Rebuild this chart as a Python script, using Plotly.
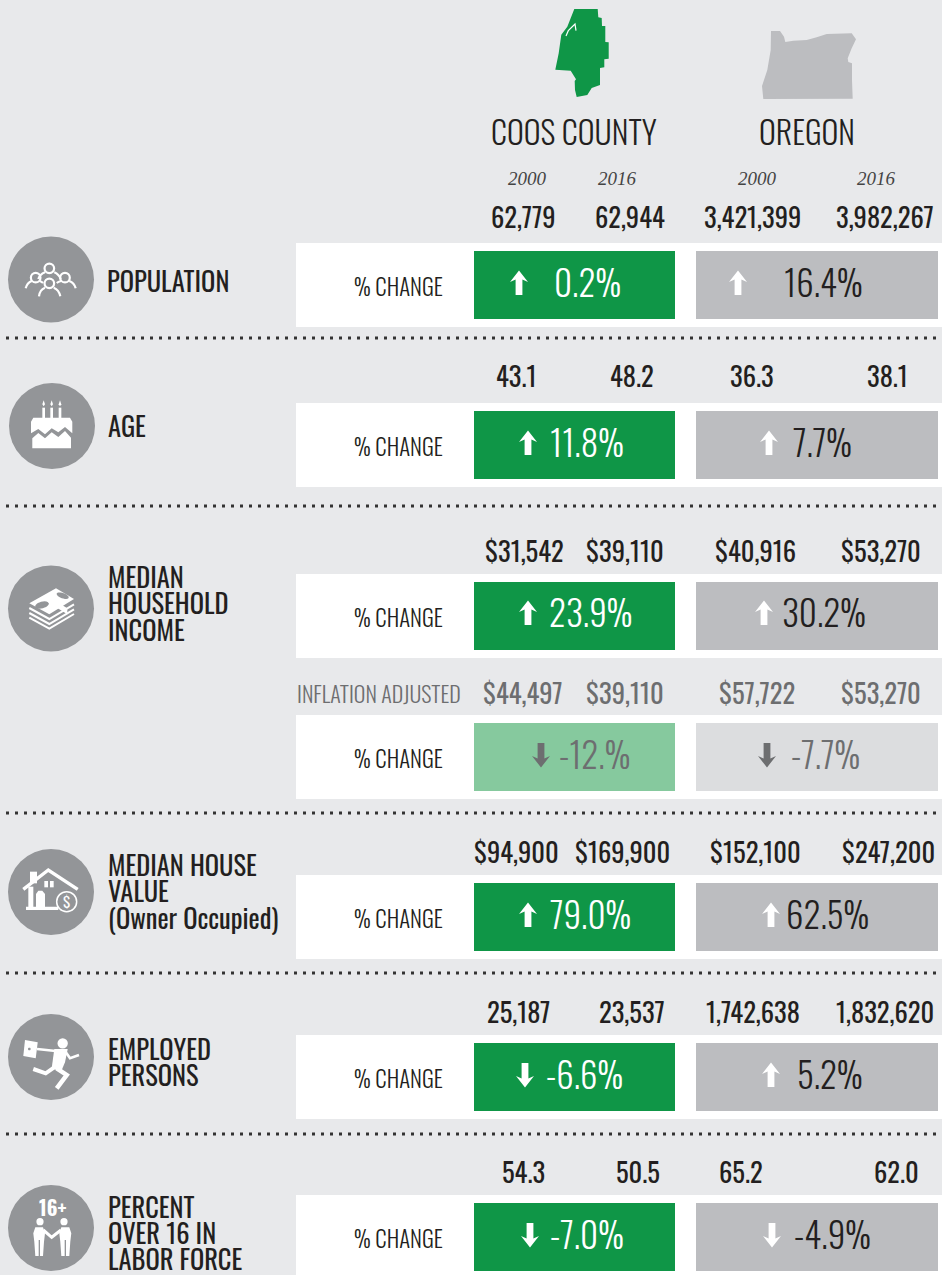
import math
import plotly.graph_objects as go

# ---------- data ----------
COUNTY_NAME = "COOS COUNTY"
STATE_NAME = "OREGON"
YEARS = ["2000", "2016", "2000", "2016"]
POPULATION = ["62,779", "62,944", "3,421,399", "3,982,267"]
AGE = ["43.1", "48.2", "36.3", "38.1"]
INCOME = ["$31,542", "$39,110", "$40,916", "$53,270"]
INCOME_ADJ = ["$44,497", "$39,110", "$57,722", "$53,270"]
HOUSE = ["$94,900", "$169,900", "$152,100", "$247,200"]
EMPLOYED = ["25,187", "23,537", "1,742,638", "1,832,620"]
LABOR = ["54.3", "50.5", "65.2", "62.0"]
PCT_COUNTY = ["0.2%", "11.8%", "23.9%", "-12.%", "79.0%", "-6.6%", "-7.0%"]
PCT_STATE = ["16.4%", "7.7%", "30.2%", "-7.7%", "62.5%", "5.2%", "-4.9%"]
DIR_COUNTY = [1, 1, 1, -1, 1, -1, -1]
DIR_STATE = [1, 1, 1, -1, 1, 1, -1]
ROW_LABELS = [["POPULATION"], ["AGE"], ["MEDIAN", "HOUSEHOLD", "INCOME"],
              ["MEDIAN HOUSE", "VALUE", "(Owner Occupied)"],
              ["EMPLOYED", "PERSONS"], ["PERCENT", "OVER 16 IN", "LABOR FORCE"]]
VALUE_ROWS = [POPULATION, AGE, INCOME, INCOME_ADJ, HOUSE, EMPLOYED, LABOR]

# ---------- layout constants ----------
BG, GREEN, GREY, DARK = "#E8E9EB", "#0F9647", "#BCBDC0", "#231F20"
GREEN_L, GREY_L, MUTED = "#86C99E", "#DCDDDF", "#6D6E70"
ICON = "#939598"
FONT = "Oswald, Liberation Sans Narrow, Arial Narrow, sans-serif"

BAND_TOP = [243, 403, 574, 715, 875, 1035, 1195]
VALUE_Y = [216, 375, 550, 692, 851, 1011, 1171]
VALUE_X = [[523, 630, 752, 885], [516, 632, 752, 887], [524, 625, 755, 881],
           [523, 625, 757, 881], [516, 622, 755, 888], [518, 632, 753, 885],
           [523, 638, 741, 896]]
PCT_Y = [281, 441, 611, 753, 913, 1073, 1233]
ARROW_Y = [283, 443, 613, 755, 915, 1075, 1235]
ARROW_C = [519, 528, 528, 541, 528, 525, 530]
TEXT_C = [587, 587, 590, 594, 590, 584, 587]
ARROW_S = [738, 769, 764, 767, 771, 771, 772]
TEXT_S = [823, 822, 824, 825, 827, 830, 832]
DOT_Y = [338, 506, 813, 973, 1134]
LABEL_Y = [[280], [425], [576, 602, 629], [864, 890, 917], [1048, 1074], [1206, 1232, 1258]]
LABEL_X = [107, 108, 108, 108, 108, 108]
CIRCLES = [(51, 279.5), (52, 426), (51, 608.5), (51, 892), (51, 1057), (51, 1228)]

shapes, ann = [], []


def poly(ox, oy, pts, fill="white", line=None, width=0, close=True):
    """pts are in 3x zoom coordinates of a crop with origin (ox, oy)."""
    d = "M" + " L".join(f"{ox + x / 3:.1f},{oy + y / 3:.1f}" for x, y in pts) + (" Z" if close else "")
    shapes.append(dict(type="path", path=d, xref="x", yref="y",
                       fillcolor=fill if close else "rgba(0,0,0,0)",
                       line=dict(color=line or "rgba(0,0,0,0)", width=width)))


def curve(ox, oy, p0, c, p1, width=2, color="white"):
    f = lambda p: f"{ox + p[0] / 3:.1f},{oy + p[1] / 3:.1f}"
    shapes.append(dict(type="path", path=f"M{f(p0)} Q{f(c)} {f(p1)}", xref="x", yref="y",
                       fillcolor="rgba(0,0,0,0)", line=dict(color=color, width=width)))


def rect(x0, y0, x1, y1, color):
    shapes.append(dict(type="rect", x0=x0, y0=y0, x1=x1, y1=y1, xref="x", yref="y",
                       fillcolor=color, line=dict(width=0)))


def zrect(ox, oy, x0, y0, x1, y1, color="white"):
    rect(ox + x0 / 3, oy + y0 / 3, ox + x1 / 3, oy + y1 / 3, color)


def disc(cx, cy, r, color="white", line=None, width=0):
    shapes.append(dict(type="circle", x0=cx - r, y0=cy - r, x1=cx + r, y1=cy + r, xref="x", yref="y",
                       fillcolor=color, line=dict(color=line or "rgba(0,0,0,0)", width=width)))


def text(x, y, s, size, color=DARK, anchor="center", family=FONT, italic=False, weight=400):
    ann.append(dict(x=x, y=y, xref="x", yref="y", text=s, showarrow=False, xanchor=anchor, yanchor="middle",
                    font=dict(size=size, color=color, family=family, weight=weight,
                              style="italic" if italic else "normal"),
                    borderpad=0, borderwidth=0))


def arrow(cx, cy, direction, color):
    s = direction
    pts = [(0, -12.5), (9, -1), (3.4, -3.5), (3.4, 12), (-3.4, 12), (-3.4, -3.5), (-9, -1)]
    d = "M" + " L".join(f"{cx + x:.1f},{cy + s * y:.1f}" for x, y in pts) + " Z"
    shapes.append(dict(type="path", path=d, xref="x", yref="y", fillcolor=color, line=dict(width=0)))


def ellipse(ox, oy, cx, cy, a, b, angle, fill=ICON):
    t = math.radians(angle)
    pts = []
    for k in range(24):
        u = 2 * math.pi * k / 24
        x, y = a * math.cos(u), b * math.sin(u)
        pts.append((cx + x * math.cos(t) - y * math.sin(t), cy + x * math.sin(t) + y * math.cos(t)))
    poly(ox, oy, pts, fill=fill)


# ---------- bands and boxes ----------
for i, top in enumerate(BAND_TOP):
    rect(296, top, 942, min(top + 84, 1275), "white")
    muted = i == 3
    rect(474, top + 8, 675, top + 76, GREEN_L if muted else GREEN)
    rect(696, top + 8, 938, top + 76, GREY_L if muted else GREY)
    text(398.5, top + 42.5, "% CHANGE", 22.8, weight=300)
    fg = MUTED if muted else "white"
    fg2 = MUTED if muted else DARK
    arrow(ARROW_C[i], ARROW_Y[i], DIR_COUNTY[i], fg)
    arrow(ARROW_S[i], ARROW_Y[i], DIR_STATE[i], MUTED if muted else "white")
    text(TEXT_C[i], PCT_Y[i], PCT_COUNTY[i], 35, fg, weight=300)
    text(TEXT_S[i], PCT_Y[i], PCT_STATE[i], 35, fg2, weight=300)
    for x, v in zip(VALUE_X[i], VALUE_ROWS[i]):
        text(x, VALUE_Y[i], v, 26.5, MUTED if muted else DARK, weight=400)

text(297, 693, "INFLATION ADJUSTED", 22, MUTED, anchor="left", weight=300)

# ---------- dotted separators ----------
for y in DOT_Y:
    shapes.append(dict(type="line", x0=6, x1=942, y0=y, y1=y, xref="x", yref="y",
                       line=dict(color="#333333", width=3, dash="3px,6px")))

# ---------- header ----------
text(574, 130, COUNTY_NAME, 32, "#231F20", weight=300)
text(807, 130, STATE_NAME, 32, "#231F20", weight=300)
for x, y_ in zip([527, 617, 757, 876], YEARS):
    text(x, 178, y_, 19, "#444444", family="Liberation Serif, serif", italic=True)

poly(480, 0, [(283, 27), (353, 27), (355, 52), (365, 54), (366, 78), (376, 78), (376, 126), (386, 127),
              (386, 176), (373, 178), (373, 202), (360, 204), (360, 255), (335, 264), (322, 285), (290, 291),
              (285, 270), (284, 243), (288, 238), (272, 212), (226, 209), (236, 160), (244, 104), (262, 80)],
     fill=GREEN)
poly(480, 0, [(258, 108), (265, 92), (285, 72), (288, 92)], line="white", width=1.2, close=False)
poly(480, 0, [(873, 93), (900, 93), (912, 110), (916, 126), (940, 122), (980, 120), (1010, 112), (1040, 102),
              (1115, 100), (1128, 118), (1115, 145), (1103, 175), (1105, 186), (1116, 190), (1116, 240),
              (1118, 296), (850, 297), (846, 258), (862, 210), (872, 150)], fill=GREY)

# ---------- row labels and icon discs ----------
for labels, ys, x in zip(ROW_LABELS, LABEL_Y, LABEL_X):
    for s, y in zip(labels, ys):
        text(x, y, s, 26.5, anchor="left", weight=400)
for cx, cy in CIRCLES:
    disc(cx, cy, 43, ICON)

# population icon (crop origin 15,255)
for hx, hy in [(103, 40), (62, 68), (150, 68)]:
    disc(15 + hx / 3, 255 + hy / 3, 4.8, ICON, "white", 2.2)
for p0, c, p1 in [((70, 72), (74, 58), (90, 52)), ((118, 52), (132, 58), (137, 72)),
                  ((32, 100), (36, 84), (50, 78)), ((74, 78), (80, 80), (84, 84)),
                  ((182, 100), (178, 84), (163, 78)), ((138, 78), (130, 80), (125, 84))]:
    curve(15, 255, p0, c, p1, width=2.2)
disc(15 + 103 / 3, 255 + 85 / 3, 4.8, ICON, "white", 2.2)
curve(15, 255, (72, 124), (74, 104), (90, 98), width=2.2)
curve(15, 255, (116, 98), (132, 104), (136, 124), width=2.2)

# cake icon (crop origin 0,225)
poly(0, 225, [(93, 625), (93, 590), (100, 578), (210, 578), (217, 590), (217, 625), (195, 606), (175, 622),
              (155, 610), (135, 628), (115, 612)])
poly(0, 225, [(97, 670), (97, 640), (115, 624), (135, 640), (155, 622), (175, 636), (195, 618), (213, 638), (213, 670)])
for cxz in (131, 155, 180):
    zrect(0, 225, cxz - 4, 548, cxz + 4, 580)
    poly(0, 225, [(cxz, 526), (cxz + 4, 538), (cxz, 544), (cxz - 4, 538)])

# money icon (crop origin 20,575)
for dy in (14, 29, 43):
    poly(20, 575, [(28, 85 + dy), (88, 118 + dy), (162, 74 + dy)], line="white", width=2, close=False)
poly(20, 575, [(108, 40), (162, 72), (88, 118), (28, 85)])
ellipse(20, 575, 66, 90, 21, 10, -15)
ellipse(20, 575, 128, 62, 19, 8, 20)
poly(20, 575, [(82, 62), (142, 100), (142, 118), (82, 80)], fill="white")

# house icon (crop origin 15,860)
zrect(15, 860, 45, 35, 66, 70)
poly(15, 860, [(25, 88), (100, 30), (188, 88)], line="white", width=3.4, close=False)
zrect(15, 860, 40, 80, 55, 142)
poly(15, 860, [(63, 142), (63, 102), (70, 92), (82, 92), (90, 102), (90, 142)])
zrect(15, 860, 88, 63, 99, 82)
zrect(15, 860, 105, 63, 116, 82)
zrect(15, 860, 33, 140, 130, 150)
disc(15 + 155 / 3, 860 + 125 / 3, 10, ICON, "white", 1.5)
text(15 + 155 / 3, 860 + 124 / 3, "$", 15, "white", weight=400)

# runner icon (crop origin 15,1025)
disc(15 + 143 / 3, 1025 + 55 / 3, 5.2)
poly(15, 1025, [(30, 45), (68, 52), (62, 100), (25, 93)])
ellipse(15, 1025, 43, 72, 4, 4, 0)
poly(15, 1025, [(66, 72), (122, 78)], line="white", width=2.6, close=False)
poly(15, 1025, [(118, 72), (158, 72), (150, 112), (138, 140), (110, 130)])
poly(15, 1025, [(150, 78), (165, 100), (192, 90)], line="white", width=2.6, close=False)
poly(15, 1025, [(125, 122), (92, 145), (55, 132)], line="white", width=4, close=False)
poly(15, 1025, [(125, 130), (155, 150), (125, 190)], line="white", width=4.5, close=False)

# labour force icon (crop origin 0,1000)
text(52, 1207, "16+", 20, "white", weight=700)
for hx, l, r in ((120, 100, 135), (192, 178, 214)):
    disc(hx / 3, 1000 + 665 / 3, 3.6)
    poly(0, 1000, [(l, 700), (l + 6, 682), (r - 6, 682), (r, 700), (r - 3, 725), (r - 6, 768), (l + 6, 768), (l + 3, 725)])
poly(0, 1000, [(130, 690), (155, 712), (183, 690)], line="white", width=3, close=False)
for x0, y0, x1, y1 in [(116, 720, 120, 770), (194, 720, 198, 770)]:
    zrect(0, 1000, x0, y0, x1, y1, ICON)

fig = go.Figure()
fig.update_layout(
    width=942, height=1275, margin=dict(l=0, r=0, t=0, b=0), autosize=False,
    paper_bgcolor=BG, plot_bgcolor=BG, showlegend=False, shapes=shapes, annotations=ann,
    xaxis=dict(range=[0, 942], visible=False, fixedrange=True),
    yaxis=dict(range=[1275, 0], visible=False, fixedrange=True),
)
fig.write_html("out.html", config=dict(displayModeBar=False),
               post_script="document.body.style.margin='0';document.body.style.background='#E8E9EB';document.documentElement.style.overflow='hidden';")
